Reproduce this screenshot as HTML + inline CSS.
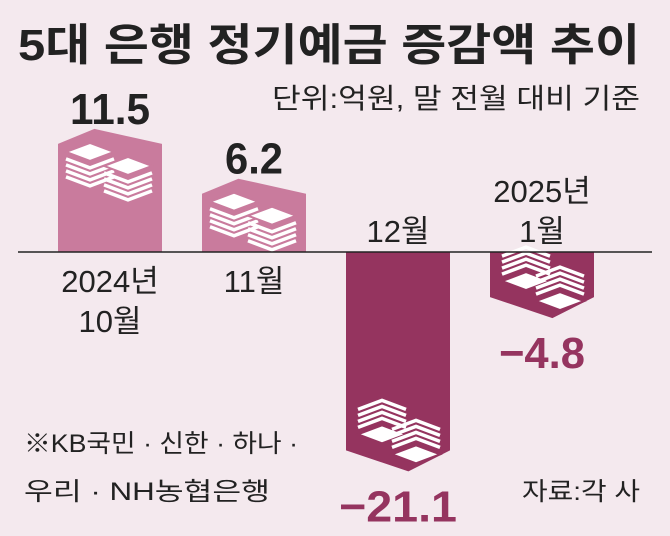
<!DOCTYPE html>
<html><head><meta charset="utf-8"><style>
body{margin:0;background:#f4e9ee;}
svg{display:block;font-family:"Liberation Sans","Noto Sans CJK KR",sans-serif;}
</style></head><body>
<svg id="c" width="670" height="536" viewBox="0 0 670 536">
<rect width="670" height="536" fill="#f4e9ee"/>
<text x="18" y="60" font-size="44" font-weight="bold" fill="#222" textLength="622" lengthAdjust="spacingAndGlyphs">5대 은행 정기예금 증감액 추이</text>
<text x="272" y="108" font-size="28" fill="#222" textLength="368" lengthAdjust="spacingAndGlyphs">단위:억원, 말 전월 대비 기준</text>
<text x="24" y="452" font-size="25" fill="#222" textLength="274" lengthAdjust="spacingAndGlyphs">※KB국민 · 신한 · 하나 ·</text>
<text x="24" y="500" font-size="25" fill="#222" textLength="246" lengthAdjust="spacingAndGlyphs">우리 · NH농협은행</text>
<text x="522" y="500" font-size="25" fill="#222" textLength="118" lengthAdjust="spacingAndGlyphs">자료:각 사</text>
<g id="bars"></g>
<line x1="18" y1="252" x2="652" y2="252" stroke="#222" stroke-width="1.5"/>
</svg>
<script>
const categories=["2024년|10월","11월","12월","2025년|1월"];
const values=[11.5,6.2,-21.1,-4.8];
const labels=["11.5","6.2","−21.1","−4.8"];
const NS="http://www.w3.org/2000/svg";
const base=252, scale=9.4, bw=104, x0=58, step=144;
function xPos(i){return x0+i*step;}
function yPos(v){return base-v*scale;}
const g=document.getElementById('bars');
function mk(t,a){const e=document.createElementNS(NS,t);for(const k in a)e.setAttribute(k,a[k]);g.appendChild(e);return e;}
function stack(cx,cy,col,dir){
  const w=24,h=9;
  for(let k=0;k<4;k++){
    const d=dir*(k*6+7);
    const s=mk('polyline',{points:`${cx-w},${cy+d} ${cx},${cy+h*dir+d} ${cx+w},${cy+d}`,stroke:"#fff","stroke-width":3.5,fill:"none"});
    
    
  }
  const r=mk('polygon',{points:`${cx-w},${cy} ${cx},${cy-h} ${cx+w},${cy} ${cx},${cy+h}`,fill:"#fff",stroke:col,"stroke-width":2});
  
  
}
values.forEach((v,i)=>{
  const x=xPos(i), pos=v>=0, col=pos?"#c97b9d":"#95345f";
  const ys=yPos(v), cap=pos?15:21, yp=pos?ys-cap:ys+cap, xm=x+bw*(pos?0.35:0.6);
  const p=mk('path',{d:`M${x},${base} L${x},${ys} L${xm},${yp} L${x+bw},${ys} L${x+bw},${base} Z`,fill:col});
  
  
  if(pos){stack(x+32,ys+8,col,1);stack(x+70,ys+22,col,1);}
  else{stack(x+36,ys-16,col,-1);stack(x+70,ys+4,col,-1);}
  const lw=[80,58,118,86][i];
  const t=mk('text',{x:x+bw/2-lw/2,y:pos?yp-5:yp+50,"font-size":44,"font-weight":"bold",fill:pos?"#222":"#95345f",textLength:lw,lengthAdjust:"spacingAndGlyphs"});
  t.textContent=labels[i];
  
  
  const parts=categories[i].split('|');
  parts.forEach((s,j)=>{
    const yy=pos?base+40+j*40:base-(parts.length-1-j)*40-10;
    const c=mk('text',{x:x+bw/2,y:yy,"font-size":31,fill:"#222","text-anchor":"middle"});
    c.textContent=s;
    
    
  });
});
</script>
</body></html>
